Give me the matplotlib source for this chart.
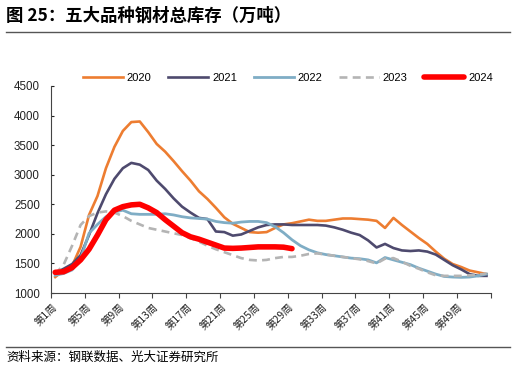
import matplotlib
matplotlib.use("Agg")
import matplotlib.pyplot as plt
from matplotlib.lines import Line2D
import numpy as np

plt.rcParams["font.family"] = ["Liberation Sans", "Noto Sans CJK SC", "DejaVu Sans"]

weeks = list(range(1, 53))
tick_weeks = list(range(1, 50, 4))
tick_labels = [f"第{w}周" for w in tick_weeks]

stock_2020 = [1270, 1380, 1460, 1780, 2320, 2640, 3110, 3470, 3740, 3890,
              3900, 3720, 3520, 3390, 3230, 3060, 2900, 2720, 2590, 2440,
              2280, 2170, 2100, 2030, 2020, 2030, 2100, 2160, 2180, 2210,
              2240, 2220, 2220, 2240, 2260, 2260, 2250, 2240, 2220, 2100,
              2270, 2150, 2040, 1930, 1830, 1700, 1580, 1490, 1440, 1380,
              1350, 1320]
stock_2021 = [1340, 1410, 1490, 1640, 1980, 2350, 2670, 2930, 3110, 3200,
              3170, 3080, 2900, 2760, 2600, 2460, 2360, 2270, 2250, 2040,
              2030, 1970, 1990, 2050, 2110, 2150, 2160, 2160, 2150, 2150,
              2150, 2150, 2140, 2110, 2070, 2020, 1980, 1890, 1770, 1830,
              1760, 1720, 1710, 1720, 1700, 1650, 1560, 1470, 1400, 1320,
              1290, 1290]
stock_2022 = [1300, 1330, 1390, 1580, 2010, 2160, 2290, 2370, 2400, 2340,
              2330, 2330, 2330, 2340, 2320, 2290, 2270, 2260, 2250, 2210,
              2190, 2180, 2200, 2210, 2210, 2190, 2120, 2020, 1900, 1800,
              1730, 1680, 1650, 1630, 1610, 1590, 1580, 1560, 1510, 1600,
              1560, 1520, 1480, 1420, 1370, 1320, 1280, 1270, 1265, 1270,
              1290, 1320]
stock_2023 = [1320, 1480, 1800, 2150, 2300, 2360, 2380, 2360, 2300, 2220,
              2160, 2100, 2070, 2040, 2010, 1980, 1930, 1870, 1800, 1740,
              1690, 1640, 1590, 1560, 1550, 1560, 1590, 1610, 1610, 1630,
              1660, 1670, 1650, 1630, 1610, 1590, 1570, 1540, 1500, 1580,
              1590, 1530, 1460, 1410, 1350, 1300, 1290, 1290, 1290, 1300,
              1310, 1330]
stock_2024 = [1350, 1360, 1430, 1560, 1740, 1980, 2240, 2400, 2460, 2490,
              2500, 2440, 2360, 2240, 2130, 2020, 1950, 1910, 1860, 1810,
              1760, 1755, 1760, 1770, 1780, 1780, 1780, 1775, 1750]

fig = plt.figure(figsize=(5.16, 3.80), dpi=100)
ax = fig.add_axes([0.0988, 0.2289, 0.8522, 0.5448])

ax.plot(weeks, stock_2020, color="#ED7D31", lw=1.9, label="2020")
ax.plot(weeks, stock_2021, color="#4E4A6E", lw=1.9, label="2021")
ax.plot(weeks, stock_2022, color="#7FADC5", lw=2.0, label="2022")
ax.plot(weeks, stock_2023, color="#B4B4B4", lw=1.9, ls=(0, (3, 2)), label="2023")
ax.plot(weeks[:len(stock_2024)], stock_2024, color="#FF0000", lw=4.0,
        solid_capstyle="round", label="2024")

ax.set_xlim(0.5, 52.5)
ax.set_ylim(1000, 4500)
ax.set_yticks(np.arange(1000, 4501, 500))
ax.tick_params(axis="y", direction="in", length=2.5, width=0.8,
               labelsize=8.3, pad=8, colors="#222222")
ax.set_xticks(tick_weeks)
ax.set_xticklabels(tick_labels, rotation=45, ha="right", va="center",
                   rotation_mode="anchor", fontsize=7.5,
                   family=["Noto Sans CJK SC", "DejaVu Sans"])
ax.set_xticks(np.arange(0.5, 53, 4), minor=True)
ax.tick_params(axis="x", which="major", length=0, pad=9, colors="#222222")
ax.tick_params(axis="x", which="minor", direction="out", length=3.5, width=0.8,
               color="#444444")

for side in ("top", "right"):
    ax.spines[side].set_visible(False)
for side in ("left", "bottom"):
    ax.spines[side].set_color("#444444")
    ax.spines[side].set_linewidth(0.8)

fig.legend(loc="center", bbox_to_anchor=(0.558, 0.795), ncol=5, frameon=False,
           fontsize=8, handlelength=3.6, handletextpad=0.35, columnspacing=1.5)

fig.text(0.012, 0.958, "图 25：五大品种钢材总库存（万吨）", fontsize=12.5,
         weight="bold", va="center", ha="left",
         family=["Noto Sans CJK SC", "DejaVu Sans"])
fig.add_artist(Line2D([0.012, 0.988], [0.9158, 0.9158], transform=fig.transFigure,
                      color="#555555", lw=1.0))
fig.add_artist(Line2D([0.012, 0.988], [0.0876, 0.0876], transform=fig.transFigure,
                      color="#555555", lw=1.0))
fig.text(0.012, 0.060, "资料来源：钢联数据、光大证券研究所", fontsize=9,
         va="center", ha="left", family=["Noto Sans CJK SC", "DejaVu Sans"])

fig.savefig("out.png", dpi=100)
